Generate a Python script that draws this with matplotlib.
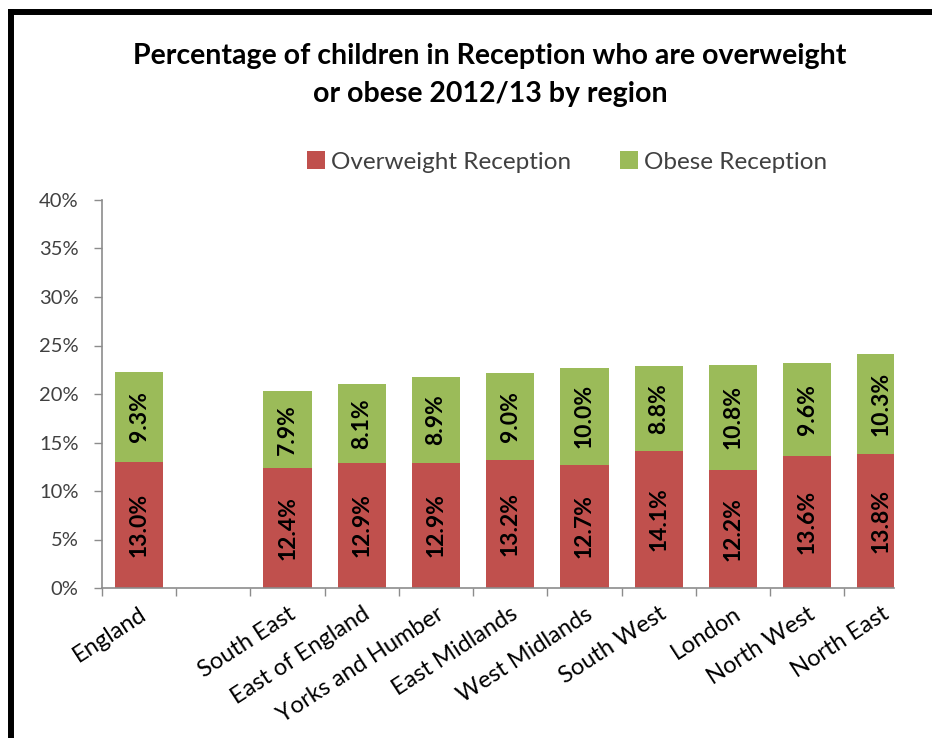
import matplotlib
matplotlib.use("Agg")
import matplotlib.pyplot as plt
from matplotlib.lines import Line2D
from matplotlib.patches import Patch
import numpy as np

plt.rcParams['font.family'] = ['Lato', 'DejaVu Sans']

categories = ["England", "", "South East", "East of England", "Yorks and Humber",
              "East Midlands", "West Midlands", "South West", "London",
              "North West", "North East"]
overweight = [13.0, np.nan, 12.4, 12.9, 12.9, 13.2, 12.7, 14.1, 12.2, 13.6, 13.8]
obese = [9.3, np.nan, 7.9, 8.1, 8.9, 9.0, 10.0, 8.8, 10.8, 9.6, 10.3]
y_ticks = [0, 5, 10, 15, 20, 25, 30, 35, 40]

red = "#C0504D"
green = "#9BBB59"
axis_grey = "#8C8C8C"
text_grey = "#404040"

W, H = 932, 738
fig = plt.figure(figsize=(W / 100, H / 100), dpi=100)
fig.patch.set_facecolor("white")

left, right, bottom, top = 102, 894, 588, 200
ax = fig.add_axes([left / W, 1 - bottom / H, (right - left) / W, (bottom - top) / H])

x = np.arange(len(categories))
ow = np.array(overweight)
ob = np.array(obese)
bw = 0.65
ax.bar(x, ow, width=bw, color=red, zorder=2)
ax.bar(x, ob, width=bw, bottom=ow, color=green, zorder=2)

for xi, a, b in zip(x, ow, ob):
    if np.isnan(a):
        continue
    ax.text(xi, a / 2, f"{a:.1f}%", rotation=90, ha="center", va="center",
            fontsize=16.5, fontweight="bold", color="black", zorder=3)
    ax.text(xi, a + b / 2, f"{b:.1f}%", rotation=90, ha="center", va="center",
            fontsize=16.5, fontweight="bold", color="black", zorder=3)

ax.set_xlim(-0.5, 10.17)
ax.set_ylim(0, 40)
ax.set_yticks(y_ticks)
ax.set_yticklabels([f"{v}%" for v in y_ticks], fontsize=14.5, color=text_grey)

ax.set_xticks(x)
ax.set_xticklabels(categories, rotation=33, ha="right", rotation_mode="anchor",
                   fontsize=17, color="black")
ax.tick_params(axis="x", which="major", length=0, pad=11)
ax.set_xticks(np.arange(-0.5, 10.0, 1.0), minor=True)
ax.tick_params(axis="x", which="minor", length=6, color=axis_grey, width=1)
ax.tick_params(axis="y", length=6, color=axis_grey, width=1, pad=11)

for s in ("top", "right"):
    ax.spines[s].set_visible(False)
for s in ("left", "bottom"):
    ax.spines[s].set_color(axis_grey)
    ax.spines[s].set_linewidth(1.2)

fig.text(490 / W, 1 - 56 / H, "Percentage of children in Reception who are overweight",
         ha="center", va="center", fontsize=20.5, fontweight="bold", color="black")
fig.text(490 / W, 1 - 94 / H, "or obese 2012/13 by region",
         ha="center", va="center", fontsize=20.5, fontweight="bold", color="black")

handles = [Patch(facecolor=red, label="Overweight Reception"),
           Patch(facecolor=green, label="Obese Reception")]
fig.legend(handles=handles, loc="center", bbox_to_anchor=(567 / W, 1 - 162 / H),
           ncol=2, frameon=False, fontsize=17.5, handlelength=0.75, handleheight=0.75,
           handletextpad=0.25, columnspacing=2.0, labelcolor=text_grey)

# frame lines along the left and top edges
fig.add_artist(Line2D([11 / W, 11 / W], [0, 1 - 12 / H], color="black", lw=4.3,
                      transform=fig.transFigure, solid_capstyle="projecting"))
fig.add_artist(Line2D([11 / W, 1], [1 - 12 / H, 1 - 12 / H], color="black", lw=4.3,
                      transform=fig.transFigure, solid_capstyle="projecting"))

fig.savefig("out.png", dpi=100, facecolor="white")
